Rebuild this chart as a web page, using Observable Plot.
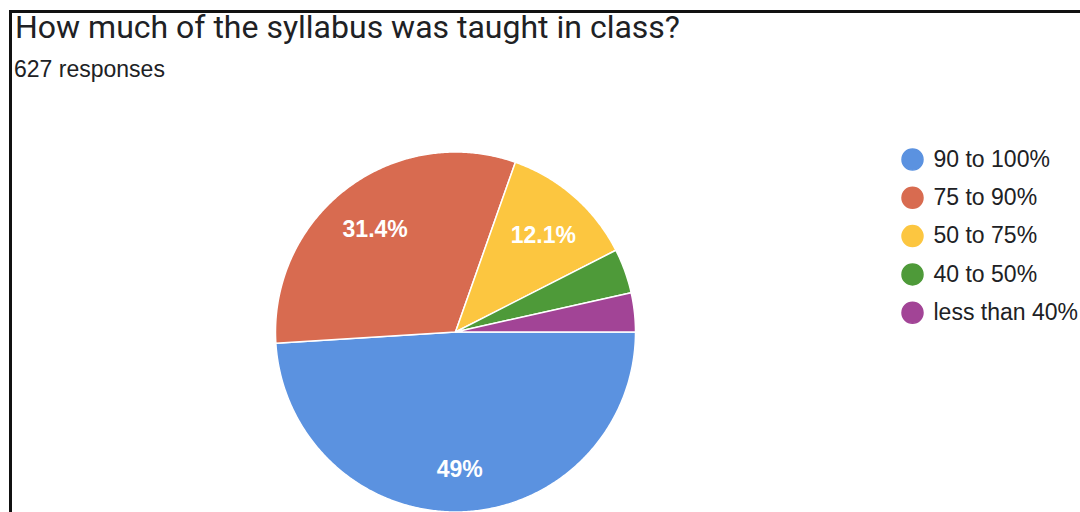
<!DOCTYPE html>
<html>
<head>
<meta charset="utf-8">
<script src="https://cdn.jsdelivr.net/npm/d3@7"></script>
<script src="https://cdn.jsdelivr.net/npm/@observablehq/plot@0.6"></script>
<style>
  html, body { margin: 0; padding: 0; background: #fff; width: 1080px; height: 512px; overflow: hidden; }
  #wrap { position: relative; width: 1080px; height: 512px; }
  #title { position: absolute; left: 15px; top: 11px; font-family: Roboto, sans-serif; font-size: 32px; line-height: 32px; color: #202124; white-space: nowrap; }
  #subtitle { position: absolute; left: 14px; top: 58px; font-family: "Liberation Sans", Arial, sans-serif; font-size: 23px; line-height: 23px; color: #202124; white-space: nowrap; }
  #frame { position: absolute; left: 9px; top: 10px; width: 1200px; height: 600px; border-left: 3px solid #111; border-top: 3px solid #111; z-index: 5; pointer-events: none; }
  #chart { position: absolute; left: 0; top: 90px; }
</style>
</head>
<body>
<div id="wrap">
  <div id="title">How much of the syllabus was taught in class?</div>
  <div id="subtitle">627 responses</div>
  <div id="chart"></div>
  <div id="frame"></div>
</div>
<script>
const categories = ["90 to 100%", "75 to 90%", "50 to 75%", "40 to 50%", "less than 40%"];
const percents = [49, 31.4, 12.1, 4.0, 3.5];
const sliceLabels = ["49%", "31.4%", "12.1%", "", ""];
const colors = ["#5b92e0", "#d86b50", "#fcc640", "#4e9a39", "#a24496"];

const W = 1080, H = 422;
const cx = 455, cy = 241.5, R = 180;

const pie = d3.pie().sort(null).value(d => d.value)
  .startAngle(Math.PI / 2).endAngle(Math.PI / 2 + 2 * Math.PI);
const arcs = pie(categories.map((c, i) => ({key: c, value: percents[i], label: sliceLabels[i]})));

// polygon vertices of each slice
const poly = [];
for (const a of arcs) {
  const n = Math.max(2, Math.ceil((a.endAngle - a.startAngle) / (Math.PI / 360)));
  poly.push({key: a.data.key, x: cx, y: cy});
  for (let j = 0; j <= n; j++) {
    const t = a.startAngle + (a.endAngle - a.startAngle) * j / n;
    poly.push({key: a.data.key, x: cx + R * Math.sin(t), y: cy - R * Math.cos(t)});
  }
  poly.push({key: a.data.key, x: cx, y: cy});
}

const labelPts = arcs.filter(a => a.data.label).map(a => {
  const m = (a.startAngle + a.endAngle) / 2;
  return {label: a.data.label, x: cx + 0.74 * R * Math.sin(m), y: cy - 0.74 * R * Math.cos(m) + 4};
});

const legend = categories.map((c, i) => ({key: c, x: 912, y: 69 + i * 38.3}));

const chart = Plot.plot({
  width: W, height: H,
  margin: 0,
  x: {domain: [0, W], range: [0, W], axis: null},
  y: {domain: [0, H], range: [0, H], axis: null},
  color: {domain: categories, range: colors},
  style: {background: "transparent", overflow: "visible"},
  marks: [
    Plot.line(poly, {x: "x", y: "y", z: "key", fill: "key", stroke: "#ffffff", strokeWidth: 1.5, strokeLinejoin: "round"}),
    Plot.text(labelPts, {x: "x", y: "y", text: "label", fill: "#ffffff", fontSize: 23, fontWeight: "bold", fontFamily: "Liberation Sans, Arial, sans-serif"}),
    Plot.dot(legend, {x: "x", y: "y", r: 10.5, fill: "key", stroke: "key"}),
    Plot.text(legend, {x: d => d.x + 21, y: "y", text: "key", textAnchor: "start", fill: "#202124", fontSize: 23, fontFamily: "Liberation Sans, Arial, sans-serif"})
  ]
});
document.getElementById("chart").appendChild(chart);
</script>
</body>
</html>
